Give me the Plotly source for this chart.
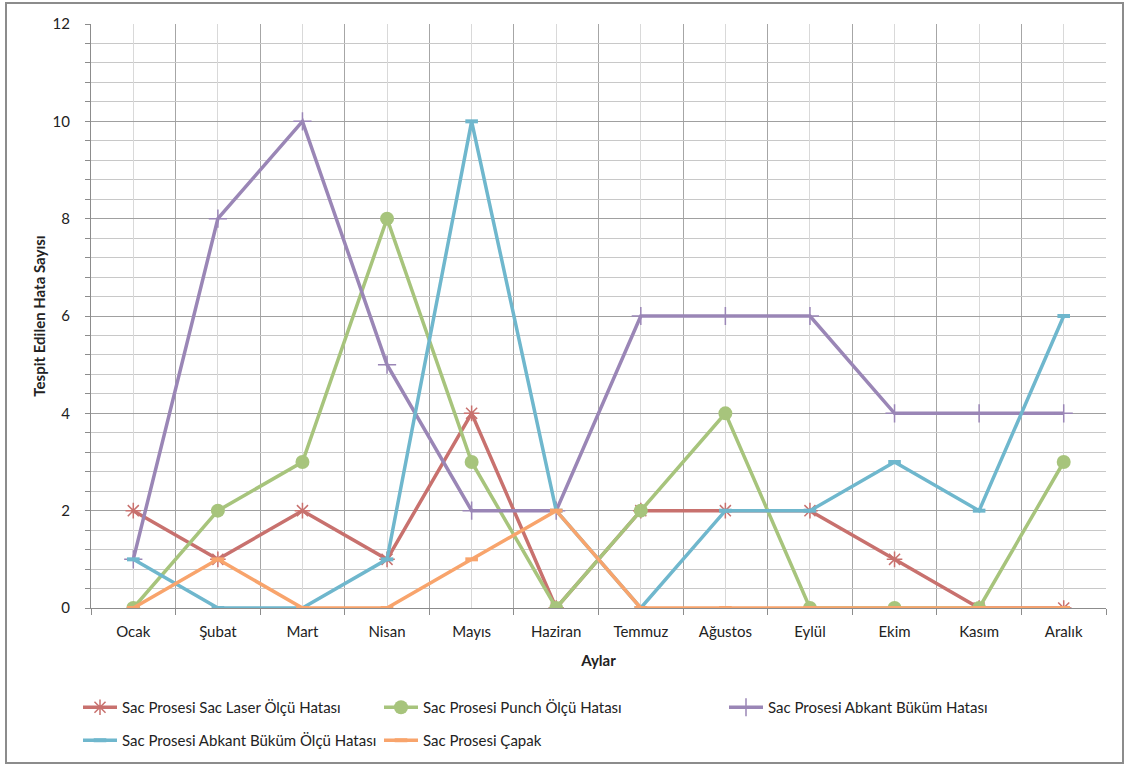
import plotly.graph_objects as go

months = ["Ocak", "Şubat", "Mart", "Nisan", "Mayıs", "Haziran",
          "Temmuz", "Ağustos", "Eylül", "Ekim", "Kasım", "Aralık"]

laser_olcu = [2, 1, 2, 1, 4, 0, 2, 2, 2, 1, 0, 0]
punch_olcu = [0, 2, 3, 8, 3, 0, 2, 4, 0, 0, 0, 3]
abkant_bukum = [1, 8, 10, 5, 2, 2, 6, 6, 6, 4, 4, 4]
abkant_bukum_olcu = [1, 0, 0, 1, 10, 2, 0, 2, 2, 3, 2, 6]
capak = [0, 1, 0, 0, 1, 2, 0, 0, 0, 0, 0, 0]

W, H = 1128, 765
ml, mr, mt, mb = 91, 22, 24, 157

# legend slots (left pixel, top pixel) for each series
series = [
    ("Sac Prosesi Sac Laser Ölçü Hatası", laser_olcu, "#C8716E",
     dict(symbol="asterisk-open", size=13, line=dict(width=1.5, color="#C8716E")),
     "legend", (78, 691)),
    ("Sac Prosesi Punch Ölçü Hatası", punch_olcu, "#A7C47C",
     dict(symbol="circle", size=14, color="#A7C47C", line=dict(width=0)),
     "legend2", (379, 691)),
    ("Sac Prosesi Abkant Büküm Hatası", abkant_bukum, "#9A86B6",
     dict(symbol="cross-thin-open", size=13, line=dict(width=1.5, color="#9A86B6")),
     "legend3", (724, 691)),
    ("Sac Prosesi Abkant Büküm Ölçü Hatası", abkant_bukum_olcu, "#6FB7CD",
     dict(symbol="line-ew-open", size=9, line=dict(width=4, color="#6FB7CD")),
     "legend4", (78, 724)),
    ("Sac Prosesi Çapak", capak, "#F8A46C",
     dict(symbol="line-ew-open", size=9, line=dict(width=4, color="#F8A46C")),
     "legend5", (379, 724)),
]

x_pos = list(range(len(months)))
font_family = "Lato, 'Open Sans', sans-serif"

fig = go.Figure()
legends = {}
for name, vals, color, marker, leg, (lx, ly) in series:
    fig.add_trace(go.Scatter(
        x=x_pos, y=vals, name=name, mode="lines+markers",
        line=dict(color=color, width=3.5),
        marker=marker, legend=leg,
    ))
    legends[leg] = dict(
        xref="container", yref="container",
        x=lx / W, y=1 - ly / H, xanchor="left", yanchor="top",
        orientation="h", bgcolor="rgba(0,0,0,0)",
        font=dict(family=font_family, size=15, color="#222222"),
        itemwidth=34,
    )

fig.update_layout(
    width=W, height=H,
    margin=dict(l=ml, r=mr, t=mt, b=mb, autoexpand=False),
    paper_bgcolor="white", plot_bgcolor="white",
    font=dict(family=font_family, size=15, color="#222222"),
    showlegend=True,
    xaxis=dict(
        range=[-0.5, 11.5],
        tickmode="array", tickvals=x_pos, ticktext=months,
        showgrid=True, gridcolor="#D9D9D9", gridwidth=1,
        ticks="", zeroline=False,
        showline=True, linecolor="#8C8C8C", linewidth=1,
        minor=dict(tickmode="array", tickvals=[i - 0.5 for i in range(13)],
                   showgrid=True, gridcolor="#A6A6A6", gridwidth=1,
                   ticks="outside", ticklen=6, tickcolor="#8C8C8C"),
        title=dict(text="<b>Aylar</b>", font=dict(size=15), standoff=16),
        tickfont=dict(size=15),
        ticklabelstandoff=10,
    ),
    yaxis=dict(
        range=[0, 12], dtick=2, tick0=0,
        showgrid=True, gridcolor="#A0A0A0", gridwidth=1,
        zeroline=False,
        showline=True, linecolor="#8C8C8C", linewidth=1,
        ticks="outside", ticklen=5, tickcolor="#8C8C8C",
        minor=dict(dtick=0.4, tick0=0, showgrid=True, gridcolor="#C8C8C8",
                   gridwidth=1, ticks="outside", ticklen=5, tickcolor="#8C8C8C"),
        title=dict(text="<b>Tespit Edilen Hata Sayısı</b>", font=dict(size=15), standoff=3),
        tickfont=dict(size=15),
        ticklabelstandoff=12,
    ),
    **legends,
)

pw, ph = W - ml - mr, H - mt - mb

def px_x(p):
    return (p - ml) / pw

def px_y(p):
    return (H - mb - p) / ph

# chart frame
fig.add_shape(type="rect", xref="paper", yref="paper",
              x0=px_x(6), x1=px_x(1123), y0=px_y(763), y1=px_y(3),
              line=dict(color="#8C8C8C", width=2), fillcolor="rgba(0,0,0,0)",
              layer="below")

fig.write_html("out.html")
